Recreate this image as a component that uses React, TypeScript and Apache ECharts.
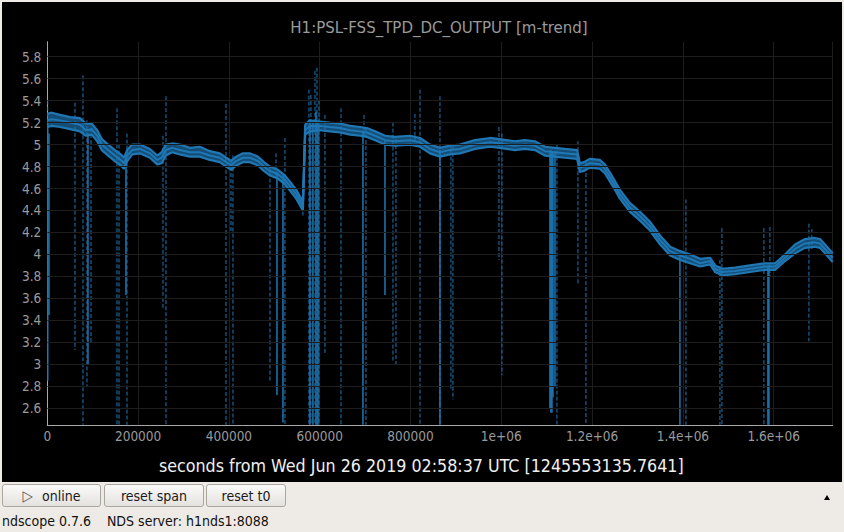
import React, { useEffect, useRef } from "react";
import * as echarts from "echarts";

// ---------- data ----------
const T = [
  0, 10000, 28000, 50000, 72000, 85000, 98000, 110000, 120000, 134000,
  149000, 162000, 169000, 176000, 187000, 204000, 226000, 242000, 252000, 261000,
  275000, 292000, 314000, 336000, 358000, 380000, 394000, 405000, 416000, 431000,
  446000, 464000, 477000, 490000, 508000, 523000, 535000, 548000, 563000, 568000,
  578000, 600000, 622000, 645000, 667000, 689000, 704000, 722000, 744000, 766000,
  799000, 821000, 843000, 865000, 887000, 909000, 942000, 975000, 997000, 1030000,
  1052000, 1074000, 1096000, 1118000, 1140000, 1167000, 1173000, 1182000, 1195000, 1217000,
  1228000, 1246000, 1261000, 1283000, 1305000, 1327000, 1350000, 1372000, 1394000, 1416000,
  1438000, 1460000, 1471000, 1486000, 1515000, 1548000, 1581000, 1603000, 1625000, 1647000,
  1669000, 1691000, 1702000, 1713000, 1730000,
];
const MEAN = [
  5.22, 5.23, 5.22, 5.2, 5.18, 5.13, 5.14, 5.08, 5.0, 4.95,
  4.9, 4.86, 4.83, 4.9, 4.95, 4.96, 4.92, 4.86, 4.88, 4.95,
  4.97, 4.95, 4.93, 4.93, 4.9, 4.88, 4.84, 4.81, 4.85, 4.88,
  4.88, 4.85, 4.8, 4.76, 4.73, 4.68, 4.62, 4.55, 4.44, 5.13,
  5.17, 5.17, 5.16, 5.15, 5.13, 5.12, 5.11, 5.08, 5.04, 5.03,
  5.04, 5.02, 4.96, 4.93, 4.95, 4.96, 5.0, 5.02, 5.01, 4.99,
  5.0, 4.99, 4.94, 4.93, 4.92, 4.91, 4.79, 4.8, 4.83, 4.82,
  4.78, 4.66, 4.55, 4.43, 4.35, 4.26, 4.13, 4.03, 3.99, 3.96,
  3.92, 3.94, 3.87, 3.84, 3.85, 3.87, 3.89, 3.89, 3.97, 4.05,
  4.1, 4.11, 4.1, 4.05, 3.97,
];
const MAXV = [
  5.28, 5.29, 5.27, 5.25, 5.24, 5.19, 5.19, 5.13, 5.05, 5.0,
  4.95, 4.91, 4.88, 4.95, 5.0, 5.0, 4.96, 4.9, 4.93, 5.0,
  5.01, 5.0, 4.97, 4.98, 4.94, 4.92, 4.88, 4.85, 4.89, 4.92,
  4.92, 4.89, 4.84, 4.8, 4.77, 4.72, 4.66, 4.59, 4.48, 5.18,
  5.22, 5.21, 5.2, 5.19, 5.17, 5.16, 5.15, 5.12, 5.08, 5.07,
  5.08, 5.06, 5.0, 4.97, 4.99, 5.0, 5.04, 5.06, 5.05, 5.03,
  5.04, 5.03, 4.98, 4.97, 4.96, 4.95, 4.83, 4.84, 4.87, 4.86,
  4.82, 4.7, 4.59, 4.47, 4.39, 4.3, 4.17, 4.07, 4.03, 4.0,
  3.96, 3.97, 3.9, 3.87, 3.88, 3.9, 3.92, 3.92, 4.0, 4.09,
  4.14, 4.15, 4.14, 4.09, 4.01,
];
const MINV = [
  5.16, 5.17, 5.16, 5.14, 5.12, 5.08, 5.09, 5.03, 4.95, 4.9,
  4.85, 4.81, 4.78, 4.85, 4.91, 4.92, 4.88, 4.82, 4.83, 4.9,
  4.93, 4.91, 4.89, 4.89, 4.86, 4.84, 4.8, 4.77, 4.81, 4.84,
  4.84, 4.81, 4.76, 4.72, 4.69, 4.64, 4.58, 4.51, 4.4, 5.09,
  5.12, 5.13, 5.12, 5.11, 5.09, 5.08, 5.07, 5.04, 5.0, 4.99,
  5.0, 4.98, 4.92, 4.89, 4.91, 4.92, 4.96, 4.98, 4.97, 4.95,
  4.96, 4.95, 4.9, 4.89, 4.88, 4.87, 4.75, 4.76, 4.79, 4.78,
  4.74, 4.62, 4.51, 4.39, 4.31, 4.22, 4.09, 3.99, 3.95, 3.92,
  3.89, 3.91, 3.84, 3.81, 3.82, 3.84, 3.86, 3.86, 3.94, 4.01,
  4.06, 4.07, 4.06, 4.01, 3.93,
];

// min/max excursions (dashed): [time, top, bottom]
const DASH_SPIKES = [
  [1000, 5.4, 5.2], [61000, 5.38, 3.13], [78600, 5.63, 2.45], [87400, 5.22, 2.8],
  [96300, 5.15, 3.2], [153500, 5.33, 2.45], [158000, 5.0, 2.45], [175500, 5.1, 2.45],
  [254800, 5.08, 3.5], [261400, 5.44, 2.45], [393600, 5.37, 2.45], [404600, 4.85, 4.2],
  [409000, 4.9, 2.45], [490500, 4.8, 2.85], [503700, 4.92, 4.7], [523500, 5.06, 2.45],
  [563100, 4.5, 4.35], [576300, 5.5, 2.45], [580700, 5.45, 2.45], [589600, 5.67, 2.45],
  [594000, 5.7, 2.45], [598400, 5.4, 2.45], [611600, 5.27, 3.1], [646900, 5.33, 2.45],
  [697500, 5.27, 5.05], [701900, 5.15, 2.45], [761400, 5.2, 3.03], [768000, 5.05, 3.0],
  [809800, 5.28, 5.0], [820900, 5.5, 2.45], [864900, 5.44, 2.45], [889100, 5.0, 2.77],
  [893500, 4.98, 2.68], [994900, 5.16, 3.95], [1001500, 5.1, 2.9], [1122600, 5.0, 2.45],
  [1168900, 5.03, 3.72], [1186500, 4.85, 2.45], [1406700, 4.5, 2.45], [1481600, 3.95, 2.45],
  [1486000, 4.24, 2.45], [1578500, 4.24, 2.45], [1591700, 4.25, 3.8], [1677600, 4.28, 3.21],
  [1684200, 4.23, 4.05],
];
// mean excursions (solid): [time, top, bottom]
const SOLID_SPIKES = [
  [1000, 5.2, 2.85], [3700, 5.1, 3.45], [89600, 5.1, 3.0], [173300, 4.88, 3.63],
  [505900, 4.75, 2.72], [519100, 4.72, 2.47], [578500, 5.2, 2.45], [585100, 5.2, 2.45],
  [591800, 5.3, 2.45], [596200, 5.2, 2.45], [695300, 5.12, 2.45], [743800, 5.04, 3.63],
  [864900, 4.95, 2.45], [1107200, 4.94, 2.6], [1109400, 4.95, 2.56], [1111600, 4.94, 2.56],
  [1113800, 4.94, 2.7], [1118200, 4.93, 2.8], [1393500, 4.0, 2.45], [1587300, 3.9, 2.45],
  [1589500, 3.9, 2.45],
];

const X_MIN = 0;
const X_MAX = 1730000;
const X_STEP = 200000;
const Y_MIN = 2.448;
const Y_MAX = 5.936;
const Y_TICKS = [2.6, 2.8, 3, 3.2, 3.4, 3.6, 3.8, 4, 4.2, 4.4, 4.6, 4.8, 5, 5.2, 5.4, 5.6, 5.8];

const TITLE = "H1:PSL-FSS_TPD_DC_OUTPUT [m-trend]";
const X_NAME = "seconds from Wed Jun 26 2019 02:58:37 UTC [1245553135.7641]";
const STATUS_LEFT = "ndscope 0.7.6";
const STATUS_RIGHT = "NDS server: h1nds1:8088";

const BLUE = "#1f77b4";
const FONT = "'DejaVu Sans Condensed', 'DejaVu Sans', sans-serif";

function fmtX(v: number): string {
  if (v % X_STEP !== 0) return "";
  if (v >= 1e6) return String(+(v / 1e6).toFixed(3)) + "e+06";
  return String(v);
}

function spikeSeries(data: number[][], dashed: boolean, z: number) {
  return {
    type: "custom",
    z,
    silent: true,
    clip: true,
    data,
    encode: { x: 0, y: [1, 2] },
    renderItem: (_p: any, api: any) => {
      const t = api.value(0);
      const a = api.coord([t, api.value(1)]);
      const b = api.coord([t, api.value(2)]);
      return {
        type: "line",
        shape: { x1: a[0], y1: a[1], x2: b[0], y2: b[1] },
        style: {
          stroke: BLUE,
          lineWidth: dashed ? 1 : 1.5,
          lineDash: dashed ? [4, 2] : null,
        },
      };
    },
  };
}

function Chart() {
  const ref = useRef<HTMLDivElement>(null);
  useEffect(() => {
    if (!ref.current) return;
    const chart = echarts.init(ref.current, null, { renderer: "svg" });
    const pts = (arr: number[]) => T.map((t, i) => [t, arr[i]]);
    chart.setOption({
      animation: false,
      backgroundColor: "#000000",
      grid: { left: 45.3, right: 9.3, top: 39.7, bottom: 57 },
      xAxis: {
        type: "value",
        min: X_MIN,
        max: X_MAX,
        interval: X_STEP,
        axisLine: { show: true, onZero: false, lineStyle: { color: "#a8a8a8", width: 1 } },
        axisTick: { show: false },
        axisLabel: {
          color: "#9a9a9a",
          fontFamily: FONT,
          fontSize: 13.5,
          margin: 4,
          formatter: fmtX,
        },
        splitLine: { show: true, lineStyle: { color: "#1e1e1e", width: 1 } },
      },
      yAxis: {
        type: "value",
        min: Y_MIN,
        max: Y_MAX,
        axisLine: { show: true, onZero: false, lineStyle: { color: "#a8a8a8", width: 1 } },
        axisTick: { show: false, customValues: Y_TICKS },
        axisLabel: {
          color: "#9a9a9a",
          fontFamily: FONT,
          fontSize: 13.5,
          margin: 6,
          customValues: Y_TICKS,
          formatter: (v: number) => String(+v.toFixed(2)),
        },
        splitLine: { show: false },
      },
      graphic: [
        {
          type: "text",
          x: 437,
          y: 24.7,
          silent: true,
          style: {
            text: TITLE,
            fill: "#9a9a9a",
            font: "16.7px " + FONT,
            textAlign: "center",
            textVerticalAlign: "middle",
          },
        },
        {
          type: "text",
          x: 419.3,
          y: 464,
          silent: true,
          style: {
            text: X_NAME,
            fill: "#f0f0f0",
            font: "17.7px " + FONT,
            textAlign: "center",
            textVerticalAlign: "middle",
          },
        },
      ],
      series: [
        {
          type: "line",
          z: 1,
          data: [],
          silent: true,
          markLine: {
            silent: true,
            symbol: ["none", "none"],
            label: { show: false },
            lineStyle: { color: "#1e1e1e", width: 1, type: "solid" },
            data: Y_TICKS.map((v) => ({ yAxis: v })),
          },
        },
        {
          // min..max fill band
          type: "custom",
          z: 2,
          silent: true,
          clip: true,
          data: [[X_MIN, Y_MIN]],
          encode: { x: 0, y: 1 },
          renderItem: (_p: any, api: any) => {
            const upper = T.map((t, i) => api.coord([t, MAXV[i]]));
            const lower = T.map((t, i) => api.coord([t, MINV[i]])).reverse();
            return {
              type: "polygon",
              shape: { points: upper.concat(lower) },
              style: { fill: BLUE, opacity: 0.65 },
            };
          },
        },
        spikeSeries(DASH_SPIKES, true, 3),
        spikeSeries(SOLID_SPIKES, false, 3),
        {
          type: "line",
          z: 4,
          symbol: "none",
          silent: true,
          data: pts(MAXV),
          lineStyle: { color: BLUE, width: 2.2 },
        },
        {
          type: "line",
          z: 4,
          symbol: "none",
          silent: true,
          data: pts(MINV),
          lineStyle: { color: BLUE, width: 2.2 },
        },
        {
          type: "line",
          z: 4,
          symbol: "none",
          silent: true,
          data: pts(MEAN),
          lineStyle: { color: BLUE, width: 2 },
        },
      ],
    });
    return () => chart.dispose();
  }, []);
  return (
    <div
      ref={ref}
      style={{ position: "absolute", left: 2, top: 2, width: 840, height: 480 }}
    />
  );
}

const btnStyle: React.CSSProperties = {
  position: "absolute",
  top: 484,
  height: 23,
  boxSizing: "border-box",
  border: "1px solid #aaa6a0",
  borderRadius: 3,
  background: "linear-gradient(#fafaf9, #e4e2df)",
  display: "flex",
  alignItems: "center",
  justifyContent: "center",
  fontFamily: FONT,
  fontStretch: "condensed",
  fontSize: 14,
  color: "#1a1a1a",
};

export default function App() {
  return (
    <div
      style={{
        position: "fixed",
        left: 0,
        top: 0,
        width: 844,
        height: 532,
        background: "#eeebe7",
        overflow: "hidden",
      }}
    >
      <Chart />
      <div style={{ ...btnStyle, left: 2, width: 99 }}>
        <span style={{ color: "#555", marginRight: 9, fontSize: 15 }}>▷</span>
        <span>online</span>
      </div>
      <div style={{ ...btnStyle, left: 104, width: 100 }}>reset span</div>
      <div style={{ ...btnStyle, left: 206, width: 80 }}>reset t0</div>
      <div
        style={{
          position: "absolute",
          left: 824,
          top: 495,
          width: 0,
          height: 0,
          borderLeft: "3.5px solid transparent",
          borderRight: "3.5px solid transparent",
          borderBottom: "5px solid #000",
        }}
      />
      <div
        style={{
          position: "absolute",
          left: 2,
          top: 513,
          height: 17,
          lineHeight: "17px",
          fontFamily: FONT,
          fontStretch: "condensed",
          fontSize: 14,
          color: "#111",
          whiteSpace: "pre",
        }}
      >
        {STATUS_LEFT + "    " + STATUS_RIGHT}
      </div>
    </div>
  );
}
